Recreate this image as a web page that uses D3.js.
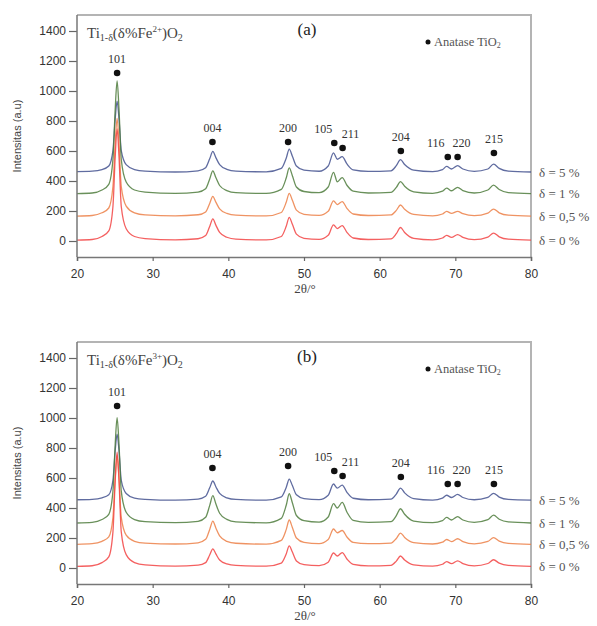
<!DOCTYPE html>
<html>
<head>
<meta charset="utf-8">
<script src="https://cdn.jsdelivr.net/npm/d3@7"></script>
<style>
  body { margin: 0; background: #fff; }
  svg { display: block; }
</style>
</head>
<body>
<div id="chart"></div>
<script>
const WIDTH = 597,
    HEIGHT = 626;

const twoTheta = [20, 22, 23.3, 24.2, 24.75, 25.05, 25.3, 25.55, 25.85, 26.5, 27.6, 29, 33, 36,
    37.0, 37.55, 37.95, 38.35, 38.85, 39.8, 41, 45, 47.0, 47.65, 48.05, 48.45, 49.0, 50.0, 52,
    53.2, 53.9, 54.4, 55.05, 55.7, 56.5, 58.5, 61.5, 62.2, 62.75, 63.3, 64.5, 67, 68.3,
    68.85, 69.5, 70.3, 71, 72.5, 74.3, 75.05, 75.8, 77, 80];

const seriesLabels = ["δ = 5 %", "δ = 1 %", "δ = 0,5 %", "δ = 0 %"];
const seriesColors = ["#44528f", "#4f7d3d", "#ec8048", "#f24444"];

// panel (a) Fe2+
const a_d5 = [463, 466, 476, 500, 603, 815, 932, 815, 603, 509, 476, 466, 460, 468, 489, 550, 597,
    556, 509, 478, 466, 461, 484, 552, 612, 567, 500, 472, 465, 500, 587, 545, 562, 512, 474, 464,
    468, 502, 542, 510, 472, 462, 476, 497, 480, 502, 480, 464, 480, 512, 484, 466, 460];
const a_d1 = [316, 320, 340, 378, 543, 880, 1068, 880, 543, 393, 340, 326, 318, 326, 348, 415, 468,
    423, 370, 336, 322, 317, 344, 420, 488, 437, 360, 330, 322, 360, 458, 395, 423, 370, 332, 320,
    324, 357, 396, 365, 328, 318, 332, 353, 335, 358, 336, 320, 340, 373, 343, 323, 316];
const a_d05 = [166, 170, 188, 220, 363, 655, 818, 655, 363, 233, 188, 174, 168, 175, 194, 252, 298,
    259, 214, 184, 172, 167, 190, 258, 318, 273, 206, 178, 171, 198, 268, 243, 263, 216, 180, 170,
    174, 204, 240, 211, 177, 168, 180, 198, 184, 198, 182, 169, 186, 213, 188, 172, 166];
const a_d0 = [6, 10, 30, 67, 230, 563, 748, 563, 230, 82, 30, 16, 8, 15, 36, 99, 148,
    106, 57, 25, 12, 7, 30, 98, 158, 113, 46, 18, 11, 38, 108, 83, 103, 56, 20, 10,
    14, 49, 90, 57, 18, 8, 20, 38, 24, 43, 24, 9, 26, 53, 28, 12, 6];

// panel (b) Fe3+
const b_d5 = [455, 458, 468, 488, 585, 783, 893, 783, 585, 497, 466, 458, 452, 459, 478, 536, 580,
    542, 497, 468, 457, 452, 474, 537, 593, 551, 488, 463, 456, 485, 560, 532, 553, 503, 465, 455,
    459, 493, 533, 501, 463, 453, 466, 485, 470, 491, 470, 455, 471, 498, 473, 457, 452];
const b_d1 = [300, 304, 323, 358, 512, 827, 1002, 827, 512, 372, 323, 309, 302, 311, 338, 419, 482,
    428, 365, 324, 307, 301, 331, 418, 495, 437, 350, 316, 306, 340, 429, 400, 437, 370, 318, 304,
    309, 349, 395, 358, 313, 302, 316, 337, 320, 342, 320, 304, 322, 352, 325, 307, 300];
const b_d05 = [158, 162, 178, 207, 337, 602, 750, 602, 337, 219, 178, 166, 160, 168, 191, 259, 313,
    267, 214, 178, 165, 159, 184, 256, 320, 272, 200, 171, 163, 190, 260, 235, 250, 205, 171, 162,
    166, 197, 233, 204, 169, 160, 172, 190, 176, 195, 176, 161, 177, 202, 179, 164, 158];
const b_d0 = [11, 15, 36, 74, 241, 583, 773, 583, 241, 89, 36, 21, 13, 19, 36, 88, 128,
    94, 53, 27, 17, 12, 33, 94, 148, 108, 47, 22, 16, 39, 100, 80, 103, 58, 24, 14,
    18, 46, 80, 53, 21, 13, 25, 43, 29, 48, 29, 14, 30, 55, 32, 17, 11];

// anatase reflections
const peakHkl = ["101", "004", "200", "105", "211", "204", "116", "220", "215"];
const peakPos = [25.3, 37.9, 47.9, 54.0, 55.1, 62.8, 69.0, 70.3, 75.1];
const peakMarkA = [1120, 660, 660, 653, 620, 600, 560, 560, 587];
const peakMarkB = [1080, 667, 680, 647, 613, 607, 560, 560, 560];

const xTicks = [20, 30, 40, 50, 60, 70, 80];
const yTicks = [0, 200, 400, 600, 800, 1000, 1200, 1400];

const panels = [
    { tag: "(a)", charge: "2+", series: [a_d5, a_d1, a_d05, a_d0], marks: peakMarkA, dy: 0 },
    { tag: "(b)", charge: "3+", series: [b_d5, b_d1, b_d05, b_d0], marks: peakMarkB, dy: 327 }
];

const plotLeft = 77, plotRight = 531, plotTop = 15, plotBottom = 257;

const x = d3.scaleLinear().domain([20, 80]).range([plotLeft, plotRight]);
const y = d3.scaleLinear().domain([0, 1400]).range([241, 31]);

const svg = d3.select("#chart")
    .append("svg")
    .attr("width", WIDTH)
    .attr("height", HEIGHT);

const serif = "'Liberation Serif', 'Times New Roman', serif";
const sans = "'Liberation Sans', Arial, sans-serif";

// small offsets so the crowded hkl labels don't overlap
const labelShift = { "105": -11, "211": 8, "116": -12, "220": 4 };

panels.forEach(function (p) {
    const g = svg.append("g").attr("transform", `translate(0,${p.dy})`);

    // light frame on top and right
    g.append("path")
        .attr("d", `M${plotLeft},${plotTop}H${plotRight}V${plotBottom}`)
        .attr("fill", "none")
        .attr("stroke", "#b4b4b4")
        .attr("stroke-width", 2);

    const line = d3.line()
        .x((d, i) => x(twoTheta[i]))
        .y(d => y(d))
        .curve(d3.curveMonotoneX);

    p.series.forEach(function (vals, si) {
        g.append("path")
            .datum(vals)
            .attr("d", line)
            .attr("fill", "none")
            .attr("stroke", seriesColors[si])
            .attr("stroke-width", 1.3)
            .attr("stroke-opacity", 0.85);

        g.append("text")
            .attr("x", 539)
            .attr("y", y(vals[vals.length - 1]))
            .attr("dy", "0.35em")
            .attr("font-family", serif)
            .attr("font-size", "13px")
            .attr("fill", "#555")
            .text(seriesLabels[si]);
    });

    // axes
    const yAxis = d3.axisLeft(y).tickValues(yTicks).tickFormat(d3.format("d")).tickSize(8).tickPadding(3);
    const yg = g.append("g").attr("transform", `translate(${plotLeft},0)`).call(yAxis);
    yg.select(".domain").remove();
    yg.append("line")
        .attr("x1", 0).attr("x2", 0)
        .attr("y1", plotTop).attr("y2", plotBottom)
        .attr("stroke", "#777").attr("stroke-width", 1.5);

    const xAxis = d3.axisBottom(x).tickValues(xTicks).tickFormat(d3.format("d")).tickSize(4).tickPadding(8);
    const xg = g.append("g").attr("transform", `translate(0,${plotBottom})`).call(xAxis);
    xg.select(".domain").attr("stroke", "#777").attr("stroke-width", 1.5);

    [yg, xg].forEach(function (ax) {
        ax.selectAll(".tick line").attr("stroke", "#666").attr("stroke-width", 1.2);
        ax.selectAll(".tick text")
            .attr("font-family", sans)
            .attr("font-size", "12px")
            .attr("fill", "#333");
    });

    g.append("text")
        .attr("transform", `translate(17,${(plotTop + plotBottom) / 2}) rotate(-90)`)
        .attr("text-anchor", "middle")
        .attr("dy", "0.35em")
        .attr("font-family", sans)
        .attr("font-size", "11px")
        .attr("fill", "#444")
        .text("Intensitas (a.u)");

    g.append("text")
        .attr("x", 305)
        .attr("y", 293)
        .attr("text-anchor", "middle")
        .attr("font-family", serif)
        .attr("font-size", "13px")
        .attr("fill", "#444")
        .text("2θ/°");

    // formula
    const f = g.append("text")
        .attr("x", 87)
        .attr("y", 38)
        .attr("font-family", serif)
        .attr("font-size", "15px")
        .attr("fill", "#444");
    f.append("tspan").text("Ti");
    f.append("tspan").attr("font-size", "10px").attr("dy", 3).text("1-δ");
    f.append("tspan").attr("dy", -3).text("(δ%Fe");
    f.append("tspan").attr("font-size", "9px").attr("dy", -6).text(p.charge);
    f.append("tspan").attr("dy", 6).text(")O");
    f.append("tspan").attr("font-size", "10px").attr("dy", 3).text("2");

    g.append("text")
        .attr("x", 307)
        .attr("y", 35)
        .attr("text-anchor", "middle")
        .attr("font-family", serif)
        .attr("font-size", "17px")
        .attr("fill", "#222")
        .text(p.tag);

    // legend
    g.append("circle").attr("cx", 428).attr("cy", 42).attr("r", 2.5).attr("fill", "#111");
    const lt = g.append("text")
        .attr("x", 434)
        .attr("y", 46)
        .attr("font-family", serif)
        .attr("font-size", "12.5px")
        .attr("fill", "#555");
    lt.append("tspan").text("Anatase TiO");
    lt.append("tspan").attr("font-size", "8px").attr("dy", 2).text("2");

    // hkl markers
    peakHkl.forEach(function (hkl, i) {
        const cx = x(peakPos[i]),
            cy = y(p.marks[i]);
        g.append("circle")
            .attr("cx", cx)
            .attr("cy", cy)
            .attr("r", 3.3)
            .attr("fill", "#111");
        g.append("text")
            .attr("x", cx + (labelShift[hkl] || 0))
            .attr("y", cy - 14)
            .attr("dy", "0.35em")
            .attr("text-anchor", "middle")
            .attr("font-family", serif)
            .attr("font-size", "12px")
            .attr("fill", "#333")
            .text(hkl);
    });
});
</script>
</body>
</html>
